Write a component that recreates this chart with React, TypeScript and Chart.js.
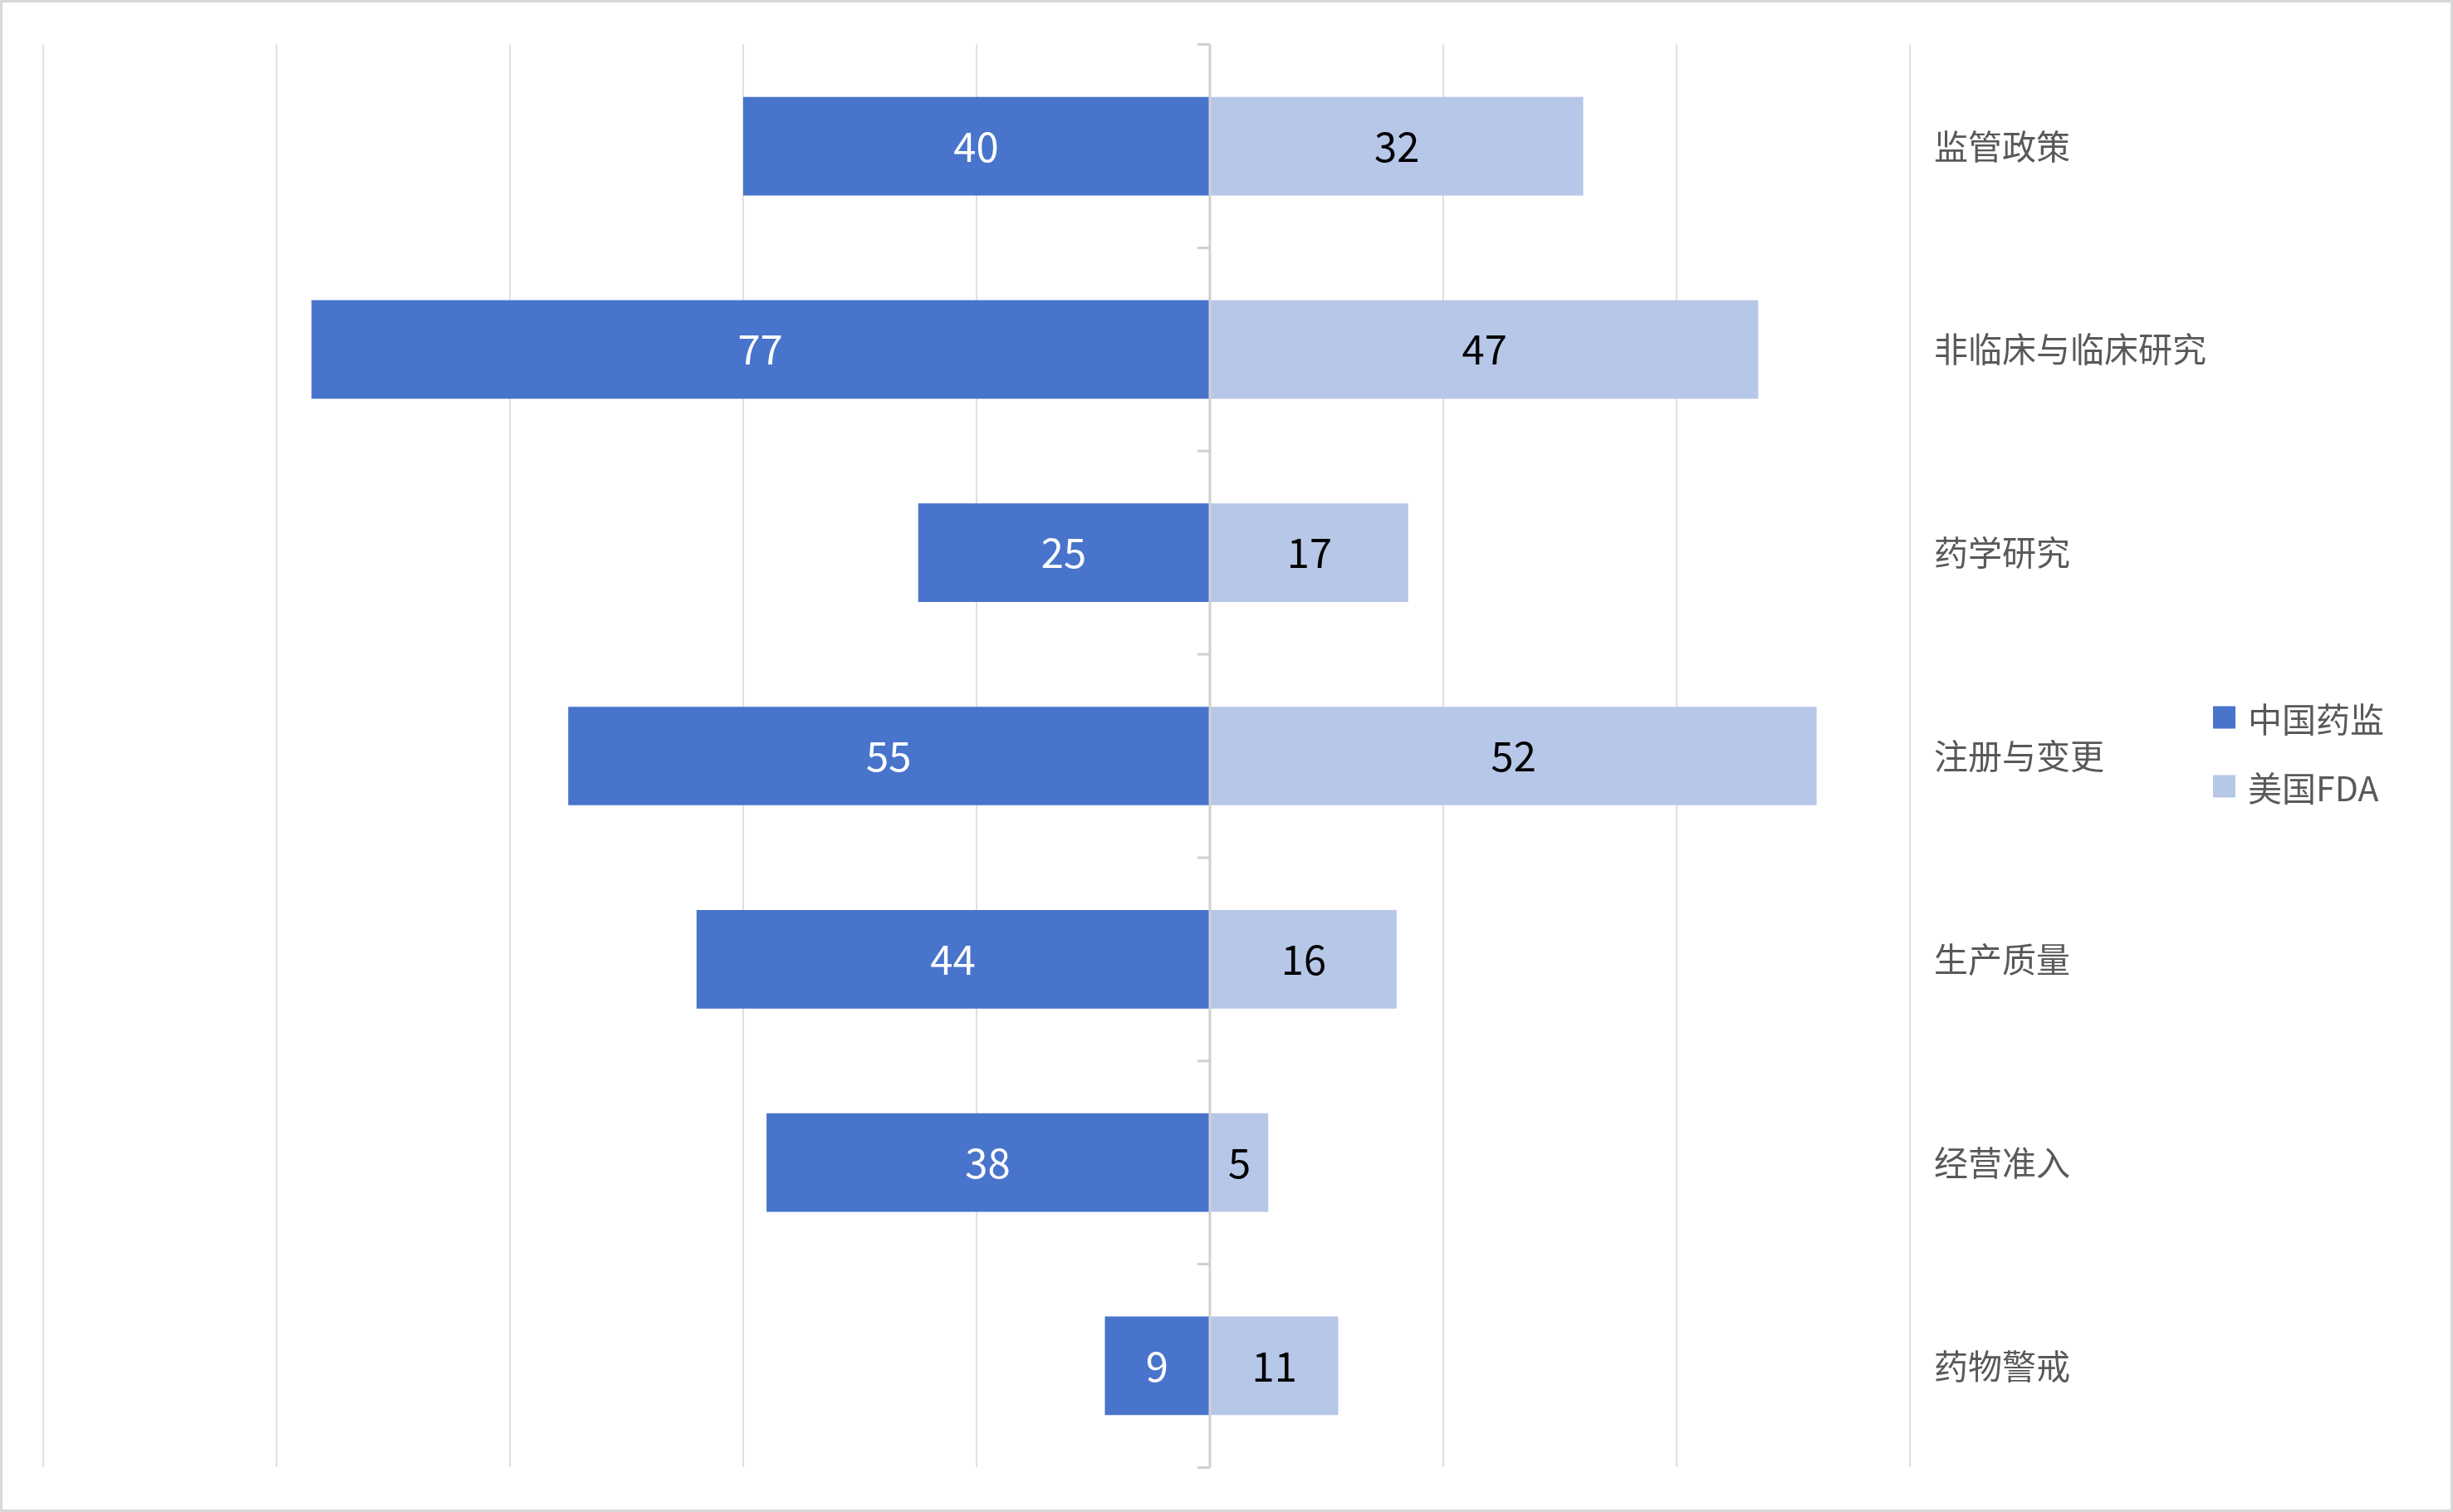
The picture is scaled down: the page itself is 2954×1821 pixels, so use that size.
import React, { useEffect, useRef } from "react";
import { Chart, registerables } from "chart.js";

Chart.register(...registerables);

const categories = ["监管政策", "非临床与临床研究", "药学研究", "注册与变更", "生产质量", "经营准入", "药物警戒"];
const chinaValues = [40, 77, 25, 55, 44, 38, 9];
const fdaValues = [32, 47, 17, 52, 16, 5, 11];
const seriesNames = ["中国药监", "美国FDA"];
const seriesColors = ["#4874CB", "#B7C7E8"];
const xMin = -100;
const xMax = 60;
const xStep = 20;

const W = 2954;
const H = 1821;
const FONT = "'Noto Sans CJK SC', 'Noto Sans', sans-serif";

const framePlugin = {
  id: "frame",
  beforeDraw(chart: any) {
    const ctx = chart.ctx;
    ctx.save();
    ctx.fillStyle = "#ffffff";
    ctx.fillRect(0, 0, chart.width, chart.height);
    ctx.strokeStyle = "#D9D9D9";
    ctx.lineWidth = 3;
    ctx.strokeRect(1.5, 1.5, chart.width - 3, chart.height - 3);
    ctx.restore();
  },
};

const centerAxisPlugin = {
  id: "centerAxis",
  afterDatasetsDraw(chart: any) {
    const ctx = chart.ctx;
    const xs = chart.scales.x;
    const x0 = Math.round(xs.getPixelForValue(0));
    const top = chart.chartArea.top;
    const bottom = chart.chartArea.bottom;
    ctx.save();
    ctx.strokeStyle = "#D0D0D0";
    ctx.lineWidth = 3;
    ctx.beginPath();
    ctx.moveTo(x0, top);
    ctx.lineTo(x0, bottom);
    const n = categories.length;
    const band = (bottom - top) / n;
    for (let i = 0; i <= n; i++) {
      const y = top + band * i;
      ctx.moveTo(x0 - 15, y);
      ctx.lineTo(x0, y);
    }
    ctx.stroke();
    ctx.restore();
  },
};

const labelPlugin = {
  id: "barLabels",
  afterDatasetsDraw(chart: any) {
    const ctx = chart.ctx;
    ctx.save();
    ctx.font = `49px ${FONT}`;
    ctx.textAlign = "center";
    ctx.textBaseline = "middle";
    chart.data.datasets.forEach((ds: any, di: number) => {
      const meta = chart.getDatasetMeta(di);
      meta.data.forEach((el: any, i: number) => {
        const v = Math.abs(ds.data[i]);
        const cx = (el.x + el.base) / 2;
        ctx.fillStyle = di === 0 ? "#FFFFFF" : "#000000";
        ctx.fillText(String(v), cx, el.y);
      });
    });
    ctx.restore();
  },
};

const legendPlugin = {
  id: "sideLegend",
  afterDraw(chart: any) {
    const ctx = chart.ctx;
    const left = 2665;
    const box = 27;
    const centers = [864, 947];
    ctx.save();
    ctx.font = `41px ${FONT}`;
    ctx.textAlign = "left";
    ctx.textBaseline = "middle";
    chart.data.datasets.forEach((ds: any, i: number) => {
      const cy = centers[i];
      ctx.fillStyle = ds.backgroundColor;
      ctx.fillRect(left, cy - box / 2, box, box);
      ctx.fillStyle = "#595959";
      ctx.fillText(ds.label, left + box + 15, cy + 2);
    });
    ctx.restore();
  },
};

export default function App() {
  const ref = useRef<HTMLCanvasElement | null>(null);
  useEffect(() => {
    document.body.style.margin = "0";
    const canvas = ref.current!;
    const chart = new Chart(canvas, {
      type: "bar",
      data: {
        labels: categories,
        datasets: [
          {
            label: seriesNames[0],
            data: chinaValues.map((v) => -v),
            backgroundColor: seriesColors[0],
            borderWidth: 0,
            categoryPercentage: 1,
            barPercentage: 0.485,
          },
          {
            label: seriesNames[1],
            data: fdaValues,
            backgroundColor: seriesColors[1],
            borderWidth: 0,
            categoryPercentage: 1,
            barPercentage: 0.485,
          },
        ],
      },
      options: {
        indexAxis: "y",
        responsive: false,
        animation: false,
        devicePixelRatio: 1,
        events: [],
        layout: { padding: { left: 52, top: 52, bottom: 53, right: 4 } },
        plugins: {
          tooltip: { enabled: false },
          legend: { display: false },
        },
        scales: {
          x: {
            type: "linear",
            min: xMin,
            max: xMax,
            stacked: true,
            ticks: { display: false, stepSize: xStep },
            grid: {
              display: true,
              drawTicks: false,
              color: (c: any) => (c.tick && c.tick.value === 0 ? "rgba(0,0,0,0)" : "#E0E0E0"),
              lineWidth: 2,
            },
            border: { display: false },
          },
          y: {
            type: "category",
            position: "right",
            stacked: true,
            grid: { display: false, drawTicks: false },
            border: { display: false },
            ticks: {
              padding: 29,
              color: "#595959",
              font: { size: 41, family: FONT },
            },
            afterFit(scale: any) {
              scale.width = 650;
            },
          },
        },
      },
      plugins: [framePlugin, centerAxisPlugin, labelPlugin, legendPlugin],
    } as any);
    return () => chart.destroy();
  }, []);
  return (
    <div style={{ position: "absolute", left: 0, top: 0 }}>
      <canvas ref={ref} width={W} height={H} style={{ width: W, height: H, display: "block" }} />
    </div>
  );
}
